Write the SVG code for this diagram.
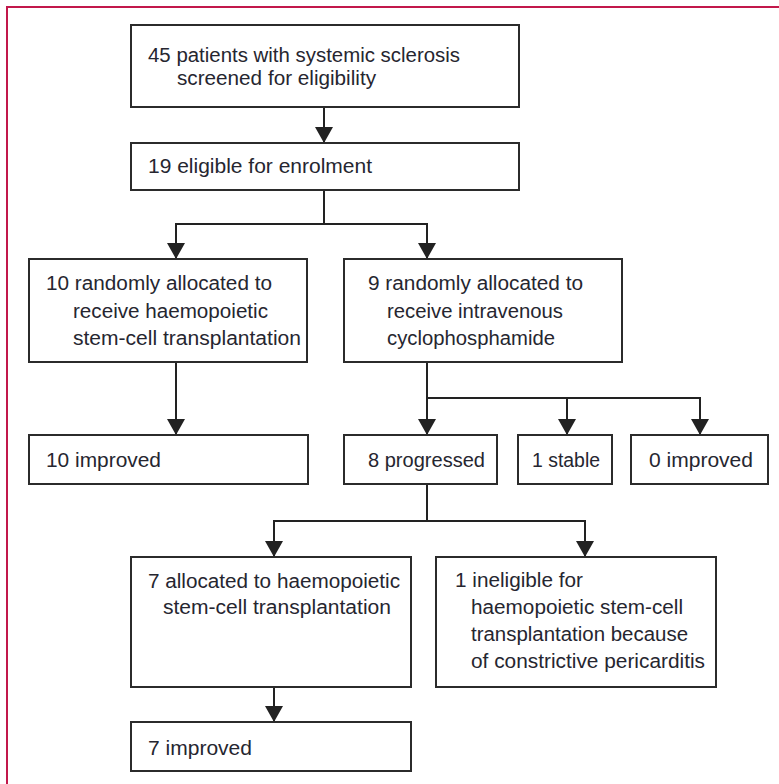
<svg xmlns="http://www.w3.org/2000/svg" width="779" height="784" viewBox="0 0 779 784">
<defs>
<style>
.box{fill:#fff;stroke:#2b2b2b;stroke-width:2}
.t{font-family:"Liberation Sans",Arial,sans-serif;font-size:20px;fill:#262630}
.c{fill:none;stroke:#222;stroke-width:2}
.frame{fill:none;stroke:#c2184b;stroke-width:2}
</style>
<marker id="ah" markerUnits="userSpaceOnUse" markerWidth="16" markerHeight="18" viewBox="0 0 16 18" refX="16" refY="9" orient="auto">
<path d="M0,0 L16,9 L0,18 Z" fill="#222"/>
</marker>
</defs>
<rect width="779" height="784" fill="#fff"/>
<path class="frame" d="M7,790 L7,7 L790,7"/>

<g id="connectors">
<path class="c" d="M324,107 L324,143" marker-end="url(#ah)"/>
<path class="c" d="M324,190 L324,224"/>
<path class="c" d="M175,224 L428,224"/>
<path class="c" d="M176,223 L176,259" marker-end="url(#ah)"/>
<path class="c" d="M427,223 L427,259" marker-end="url(#ah)"/>
<path class="c" d="M176,362 L176,435" marker-end="url(#ah)"/>
<path class="c" d="M427,362 L427,398"/>
<path class="c" d="M426,398 L701,398"/>
<path class="c" d="M427,397 L427,435" marker-end="url(#ah)"/>
<path class="c" d="M567,397 L567,435" marker-end="url(#ah)"/>
<path class="c" d="M700,397 L700,435" marker-end="url(#ah)"/>
<path class="c" d="M427,484 L427,521"/>
<path class="c" d="M273,521 L586,521"/>
<path class="c" d="M274,520 L274,557" marker-end="url(#ah)"/>
<path class="c" d="M585,520 L585,557" marker-end="url(#ah)"/>
<path class="c" d="M274,687 L274,722" marker-end="url(#ah)"/>
</g>

<g id="screened">
<rect class="box" x="131" y="25" width="388" height="82"/>
<text class="t" x="148" y="62" textLength="312" lengthAdjust="spacingAndGlyphs">45 patients with systemic sclerosis</text>
<text class="t" x="177" y="85" textLength="199" lengthAdjust="spacingAndGlyphs">screened for eligibility</text>
</g>

<g id="eligible">
<rect class="box" x="131" y="143" width="388" height="47"/>
<text class="t" x="148" y="173" textLength="224" lengthAdjust="spacingAndGlyphs">19 eligible for enrolment</text>
</g>

<g id="hsct">
<rect class="box" x="29" y="259" width="278" height="103"/>
<text class="t" x="46" y="290" textLength="226" lengthAdjust="spacingAndGlyphs">10 randomly allocated to</text>
<text class="t" x="73" y="318" textLength="195" lengthAdjust="spacingAndGlyphs">receive haemopoietic</text>
<text class="t" x="73" y="345" textLength="228" lengthAdjust="spacingAndGlyphs">stem-cell transplantation</text>
</g>

<g id="cyclo">
<rect class="box" x="344" y="259" width="278" height="103"/>
<text class="t" x="368" y="290" textLength="215" lengthAdjust="spacingAndGlyphs">9 randomly allocated to</text>
<text class="t" x="387" y="318" textLength="176" lengthAdjust="spacingAndGlyphs">receive intravenous</text>
<text class="t" x="387" y="345" textLength="168" lengthAdjust="spacingAndGlyphs">cyclophosphamide</text>
</g>

<g id="improved10">
<rect class="box" x="29" y="435" width="279" height="49"/>
<text class="t" x="46" y="467" textLength="115" lengthAdjust="spacingAndGlyphs">10 improved</text>
</g>

<g id="progressed8">
<rect class="box" x="344" y="435" width="153" height="49"/>
<text class="t" x="368" y="467" textLength="117" lengthAdjust="spacingAndGlyphs">8 progressed</text>
</g>

<g id="stable1">
<rect class="box" x="518" y="435" width="94" height="49"/>
<text class="t" x="532" y="467" textLength="68" lengthAdjust="spacingAndGlyphs">1 stable</text>
</g>

<g id="improved0">
<rect class="box" x="631" y="435" width="137" height="49"/>
<text class="t" x="649" y="467" textLength="104" lengthAdjust="spacingAndGlyphs">0 improved</text>
</g>

<g id="allocated7">
<rect class="box" x="131" y="557" width="280" height="130"/>
<text class="t" x="148" y="588" textLength="252" lengthAdjust="spacingAndGlyphs">7 allocated to haemopoietic</text>
<text class="t" x="163" y="614" textLength="228" lengthAdjust="spacingAndGlyphs">stem-cell transplantation</text>
</g>

<g id="ineligible1">
<rect class="box" x="436" y="557" width="280" height="130"/>
<text class="t" x="455" y="587" textLength="128" lengthAdjust="spacingAndGlyphs">1 ineligible for</text>
<text class="t" x="471" y="614" textLength="212" lengthAdjust="spacingAndGlyphs">haemopoietic stem-cell</text>
<text class="t" x="471" y="641" textLength="217" lengthAdjust="spacingAndGlyphs">transplantation because</text>
<text class="t" x="471" y="668" textLength="234" lengthAdjust="spacingAndGlyphs">of constrictive pericarditis</text>
</g>

<g id="improved7">
<rect class="box" x="131" y="722" width="280" height="49"/>
<text class="t" x="148" y="755" textLength="104" lengthAdjust="spacingAndGlyphs">7 improved</text>
</g>
</svg>
